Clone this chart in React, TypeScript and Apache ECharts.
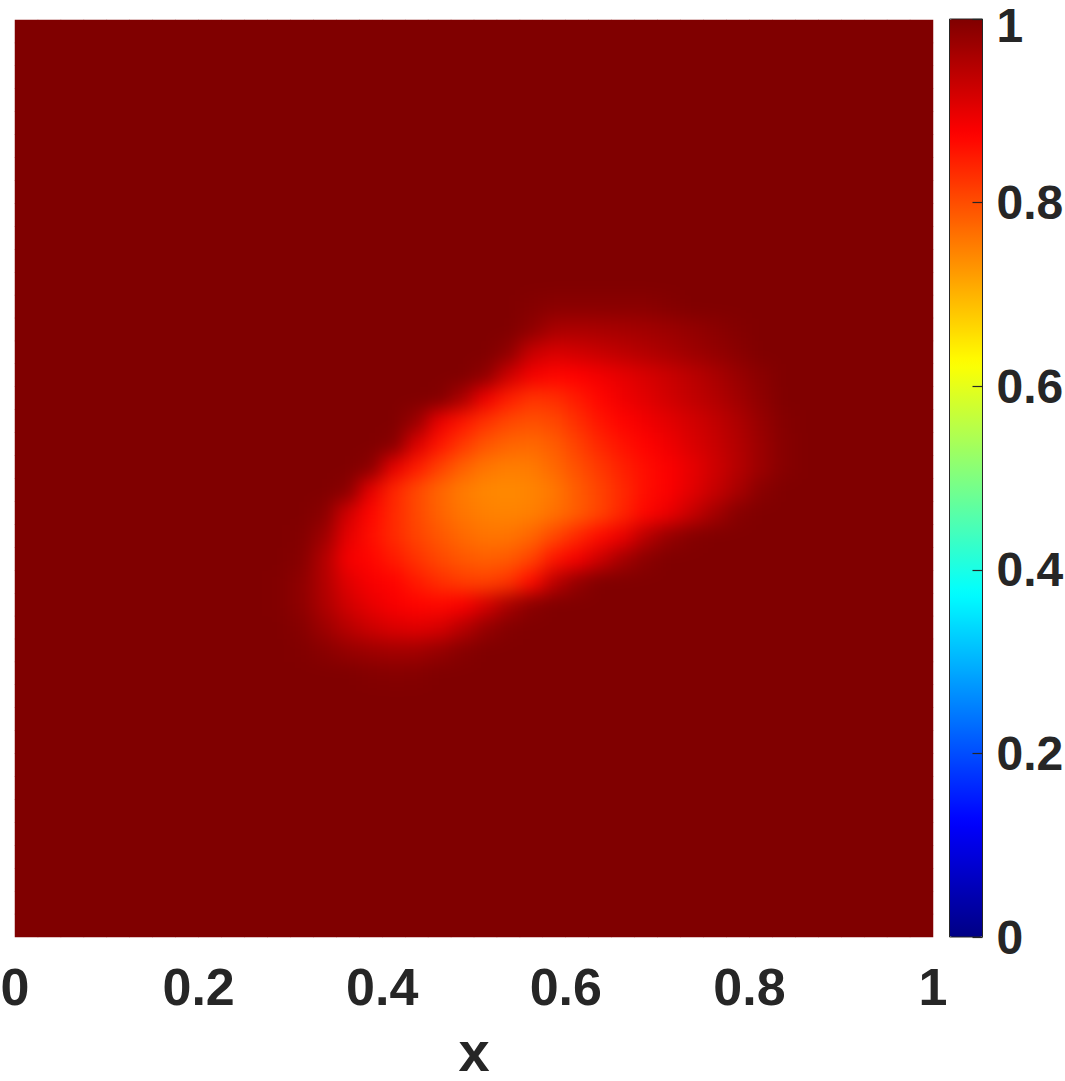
import React, { useEffect, useRef } from "react";
import * as echarts from "echarts";

// Cell centres of the 40 x 40 sampling grid (same along x and y)
const gridCenters = [
  "0.0125", "0.0375", "0.0625", "0.0875", "0.1125", "0.1375", "0.1625", "0.1875",
  "0.2125", "0.2375", "0.2625", "0.2875", "0.3125", "0.3375", "0.3625", "0.3875",
  "0.4125", "0.4375", "0.4625", "0.4875", "0.5125", "0.5375", "0.5625", "0.5875",
  "0.6125", "0.6375", "0.6625", "0.6875", "0.7125", "0.7375", "0.7625", "0.7875",
  "0.8125", "0.8375", "0.8625", "0.8875", "0.9125", "0.9375", "0.9625", "0.9875",
];

// value of the field everywhere outside the blob
const backgroundValue = 1;

// blob: rows from top (row index 27) down to row 11,
// columns 11 .. 34
const blobTopRow = 27;
const blobColStart = 11;
const blobRows = [
  [1, 1, 1, 1, 1, 1, 1, 1, 1, 1, 1, 0.995, 0.99, 0.99, 0.99, 0.99, 0.99, 0.995, 1, 1, 1, 1, 1, 1],
  [1, 1, 1, 1, 1, 1, 1, 1, 1, 1, 1, 0.985, 0.96, 0.957, 0.96, 0.963, 0.967, 0.972, 0.98, 0.988, 0.996, 1, 1, 1],
  [1, 1, 1, 1, 1, 1, 1, 1, 1, 1, 0.985, 0.93, 0.912, 0.92, 0.93, 0.94, 0.95, 0.96, 0.97, 0.98, 0.99, 1, 1, 1],
  [1, 1, 1, 1, 1, 1, 1, 1, 1, 0.985, 0.925, 0.885, 0.87, 0.875, 0.887, 0.9, 0.913, 0.927, 0.942, 0.958, 0.975, 0.99, 1, 1],
  [1, 1, 1, 1, 1, 1, 1, 0.997, 0.96, 0.89, 0.848, 0.825, 0.83, 0.85, 0.87, 0.89, 0.905, 0.92, 0.935, 0.95, 0.968, 0.985, 1, 1],
  [1, 1, 1, 1, 1, 1, 0.975, 0.895, 0.855, 0.826, 0.806, 0.797, 0.805, 0.83, 0.855, 0.872, 0.888, 0.903, 0.918, 0.935, 0.955, 0.977, 0.995, 1],
  [1, 1, 1, 1, 1, 0.993, 0.91, 0.855, 0.82, 0.792, 0.777, 0.772, 0.785, 0.812, 0.838, 0.858, 0.873, 0.89, 0.91, 0.928, 0.95, 0.973, 0.993, 1],
  [1, 1, 1, 1, 0.99, 0.9, 0.85, 0.812, 0.78, 0.76, 0.752, 0.755, 0.772, 0.797, 0.82, 0.845, 0.863, 0.878, 0.898, 0.922, 0.948, 0.972, 0.993, 1],
  [1, 1, 1, 0.99, 0.9, 0.84, 0.805, 0.775, 0.755, 0.743, 0.74, 0.745, 0.758, 0.785, 0.81, 0.836, 0.862, 0.878, 0.903, 0.93, 0.96, 0.99, 1, 1],
  [1, 1, 0.99, 0.92, 0.87, 0.835, 0.805, 0.778, 0.76, 0.75, 0.746, 0.75, 0.765, 0.785, 0.81, 0.84, 0.87, 0.895, 0.93, 0.965, 0.993, 1, 1, 1],
  [1, 0.997, 0.97, 0.9, 0.862, 0.835, 0.81, 0.79, 0.772, 0.762, 0.762, 0.775, 0.805, 0.836, 0.865, 0.895, 0.945, 0.978, 0.995, 1, 1, 1, 1, 1],
  [1, 0.993, 0.95, 0.885, 0.87, 0.85, 0.826, 0.805, 0.79, 0.782, 0.787, 0.81, 0.855, 0.885, 0.925, 0.965, 0.99, 1, 1, 1, 1, 1, 1, 1],
  [0.998, 0.985, 0.95, 0.905, 0.882, 0.872, 0.85, 0.83, 0.816, 0.812, 0.825, 0.865, 0.94, 0.98, 1, 1, 1, 1, 1, 1, 1, 1, 1, 1],
  [0.998, 0.985, 0.955, 0.92, 0.898, 0.882, 0.872, 0.868, 0.88, 0.915, 0.96, 0.99, 1, 1, 1, 1, 1, 1, 1, 1, 1, 1, 1, 1],
  [1, 0.993, 0.97, 0.945, 0.925, 0.91, 0.905, 0.914, 0.945, 0.978, 0.996, 1, 1, 1, 1, 1, 1, 1, 1, 1, 1, 1, 1, 1],
  [1, 0.998, 0.99, 0.978, 0.97, 0.965, 0.967, 0.978, 0.993, 1, 1, 1, 1, 1, 1, 1, 1, 1, 1, 1, 1, 1, 1, 1],
  [1, 1, 1, 1, 0.996, 0.994, 0.995, 1, 1, 1, 1, 1, 1, 1, 1, 1, 1, 1, 1, 1, 1, 1, 1, 1],
];

// jet colour map stops (0, 0.125, ..., 1)
const jetColors = [
  "#000084", "#0000ff", "#0080ff", "#00ffff", "#80ff80",
  "#ffff00", "#ff8000", "#ff0000", "#800000",
];

const xTickMin = 0;
const xTickMax = 1;
const xTickStep = 0.2;
const colorbarMin = 0;
const colorbarMax = 1;
const colorbarStep = 0.2;

const FONT = "'Liberation Sans', Arial, Helvetica, sans-serif";
const TEXT = "#262626";
const BG_RED = "#800000";

// plot box in page pixels
const PLOT = { left: 15, top: 20, width: 918, height: 917 };
const PAD = 40; // extra margin of the smoothing layer

function buildData() {
  const out: number[][] = [];
  for (let j = 0; j < gridCenters.length; j++) {
    for (let i = 0; i < gridCenters.length; i++) {
      let v = backgroundValue;
      const r = blobTopRow - j;
      const c = i - blobColStart;
      if (r >= 0 && r < blobRows.length && c >= 0 && c < blobRows[r].length) {
        v = blobRows[r][c];
      }
      out.push([i, j, v]);
    }
  }
  return out;
}

function heatmapSeries() {
  return {
    type: "heatmap",
    xAxisIndex: 0,
    yAxisIndex: 0,
    data: buildData(),
    progressive: 0,
    itemStyle: { borderWidth: 0 },
    emphasis: { disabled: true },
  };
}

export default function App() {
  const mainRef = useRef<HTMLDivElement>(null);
  const smoothRef = useRef<HTMLDivElement>(null);

  useEffect(() => {
    document.body.style.margin = "0";
    if (!mainRef.current || !smoothRef.current) return;

    const labelStyle = { fontSize: 48, fontWeight: "bold", fontFamily: FONT, color: TEXT };

    const chart = echarts.init(mainRef.current, null, { renderer: "svg" });
    chart.setOption({
      animation: false,
      backgroundColor: "#ffffff",
      grid: [
        {
          left: PLOT.left, top: PLOT.top, width: PLOT.width, height: PLOT.height,
          show: true, backgroundColor: BG_RED, borderWidth: 0, outerBoundsMode: "none",
        },
        {
          left: 949.5, top: 19, width: 33, height: 918, show: true,
          borderColor: TEXT, borderWidth: 1, backgroundColor: "transparent",
          outerBoundsMode: "none", z: 10,
        },
      ],
      xAxis: [
        { type: "category", gridIndex: 0, data: gridCenters, show: false, position: "top" },
        {
          type: "value", gridIndex: 0, min: xTickMin, max: xTickMax, interval: xTickStep,
          position: "bottom",
          axisLine: { show: false, onZero: false }, axisTick: { show: false }, splitLine: { show: false },
          axisLabel: {
            show: true, margin: 24, fontSize: 52, fontWeight: "bold",
            fontFamily: FONT, color: TEXT,
          },
          name: "x", nameLocation: "middle", nameGap: 92,
          nameTextStyle: { fontSize: 56, fontWeight: "bold", fontFamily: FONT, color: TEXT, lineHeight: 44 },
        },
        { type: "value", gridIndex: 1, min: 0, max: 1, show: false },
      ],
      yAxis: [
        { type: "category", gridIndex: 0, data: gridCenters, show: false },
        {
          type: "value", gridIndex: 1, min: colorbarMin, max: colorbarMax, interval: colorbarStep,
          position: "right", z: 20,
          axisLine: { show: false, onZero: false },
          axisTick: { show: true, inside: true, length: 10, lineStyle: { color: TEXT, width: 1.2 } },
          splitLine: { show: false },
          axisLabel: {
            show: true, margin: 14, ...labelStyle, lineHeight: 36,
            formatter: (v: number) => (v === colorbarMax ? `{top|${v}}` : `${v}`),
            rich: { top: { ...labelStyle, lineHeight: 36, padding: [12, 0, 0, 0] } },
          },
        },
      ],
      visualMap: {
        type: "continuous",
        min: colorbarMin, max: colorbarMax,
        seriesIndex: 0,
        calculable: false, hoverLink: false,
        orient: "vertical",
        left: 949.5, top: 19,
        itemWidth: 33, itemHeight: 918,
        padding: 0,
        text: null,
        inRange: { color: jetColors },
      },
      series: [heatmapSeries()],
    });

    // the same field drawn again on a layer that is softened by a blur,
    // so that the sampled cells read as the smooth field of the reference
    const smooth = echarts.init(smoothRef.current, null, { renderer: "svg" });
    smooth.setOption({
      animation: false,
      grid: {
        left: PAD, top: PAD, width: PLOT.width, height: PLOT.height,
        show: false, outerBoundsMode: "none",
      },
      xAxis: { type: "category", data: gridCenters, show: false },
      yAxis: { type: "category", data: gridCenters, show: false },
      visualMap: {
        type: "continuous", show: false, min: colorbarMin, max: colorbarMax,
        seriesIndex: 0, inRange: { color: jetColors },
      },
      series: [heatmapSeries()],
    });

    return () => {
      chart.dispose();
      smooth.dispose();
    };
  }, []);

  return (
    <div style={{ position: "relative", width: 1065, height: 1081, overflow: "hidden" }}>
      <div ref={mainRef} style={{ position: "absolute", left: 0, top: 0, width: 1065, height: 1081 }} />
      <div
        style={{
          position: "absolute", left: PLOT.left, top: PLOT.top,
          width: PLOT.width, height: PLOT.height, overflow: "hidden", pointerEvents: "none",
        }}
      >
        <div
          ref={smoothRef}
          style={{
            position: "absolute", left: -PAD, top: -PAD,
            width: PLOT.width + 2 * PAD, height: PLOT.height + 2 * PAD,
            background: BG_RED, filter: "blur(9px)",
          }}
        />
      </div>
    </div>
  );
}
